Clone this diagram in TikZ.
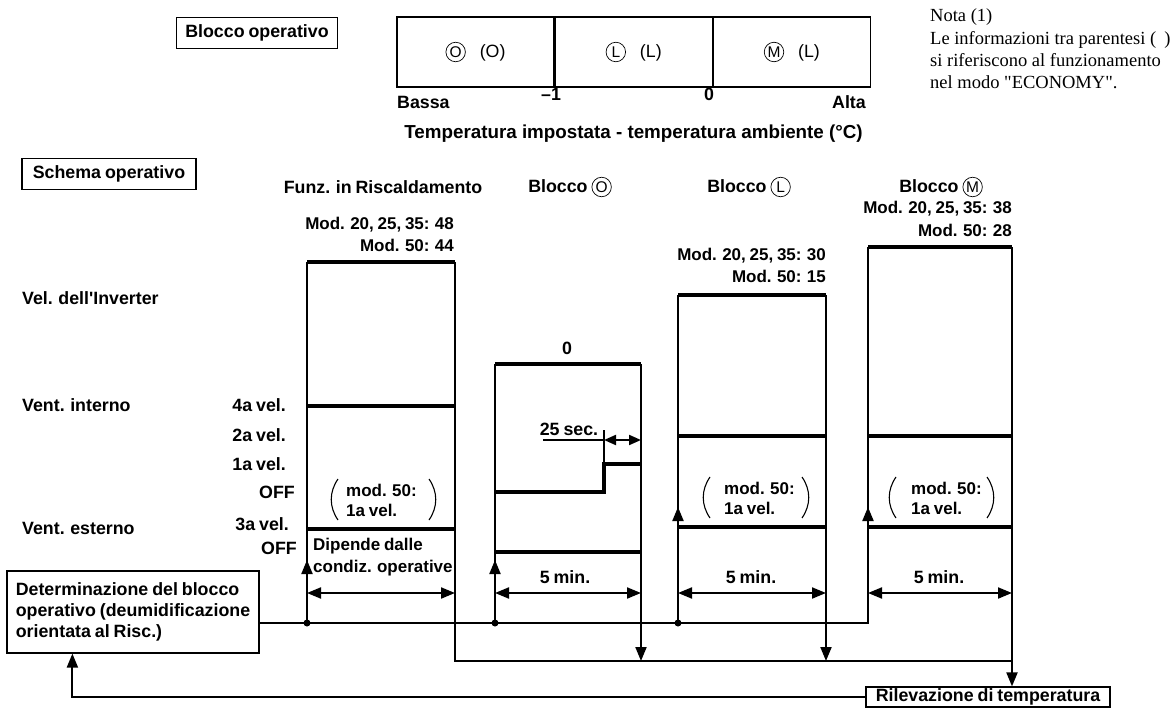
\documentclass[tikz,border=0pt]{standalone}
\usepackage{fontspec}
\setmainfont{Liberation Sans}
\newfontfamily\notefont{Liberation Serif}
\usetikzlibrary{arrows.meta,positioning}

% narrow word spaces, as in the chart
\newcommand{\tightsp}{\spaceskip=0.22em plus 0.05em minus 0.03em\relax}
% letter in a circle (the fonts at hand have no circled letters)
\newcommand{\circled}[1]{\tikz[baseline=(cc.base)]\node[draw, circle, line width=0.7pt, inner sep=0pt, minimum size=19.5pt, font=\fontsize{15.5}{15.5}\selectfont\mdseries] (cc) {#1};}

\begin{document}
\begin{tikzpicture}[
  x=1pt, y=-1pt,
  font=\fontsize{17.8}{21}\selectfont\bfseries\tightsp,
  >={Triangle[length=14pt,width=11pt]},
  frame/.style={
    rectangle,
    draw,
    line width=1.2pt,
    inner sep=0pt
  },
  cell/.style={
    frame,
    minimum width=157pt,
    minimum height=70pt,
    font=\fontsize{17.8}{21}\selectfont\mdseries
  },
  wire/.style={line width=2pt},
  level/.style={line width=4.2pt},
  arr/.style={->, line width=2pt},
  dim/.style={<->, line width=2pt},
  paren/.style={line width=1.1pt},
  lbl/.style={inner sep=0pt},
  small/.style={lbl, anchor=west, align=left, font=\fontsize{17}{20}\selectfont\bfseries\tightsp},
  modlbl/.style={lbl, anchor=east, font=\fontsize{17}{20}\selectfont\bfseries\tightsp}
]

\useasboundingbox (0,0) rectangle (1171,709);

% operating block chart
\node[frame, minimum width=161pt, minimum height=31pt] (bo) at (257,33) {Blocco operativo};
\node[cell] (cO) at (475.5,52) {\circled{O}\hspace{14pt}(O)};
\node[cell, right=0pt of cO] (cL) {\circled{L}\hspace{14pt}(L)};
\node[cell, right=0pt of cL] (cM) {\circled{M}\hspace{14pt}(L)};
\node[lbl, anchor=west] (bassa) at (397,102) {Bassa};
\node[lbl] (m1) at (551,94) {–1};
\node[lbl] (zero) at (709,94) {0};
\node[lbl, anchor=east] (alta) at (866,102) {Alta};
\node[lbl, anchor=east, font=\fontsize{18.8}{22}\selectfont\bfseries] (axis) at (863,134) {Temperatura impostata - temperatura ambiente (°C)};

\node[lbl, anchor=north west, align=left, font=\notefont\fontsize{18.5}{22}\selectfont]
  (nota) at (930,8) {Nota (1)\\[1pt]Le informazioni tra parentesi (\hspace{8pt})\\si riferiscono al funzionamento\\nel modo "ECONOMY".};

% operating pattern
\node[frame, minimum width=174pt, minimum height=31pt] (so) at (109,174) {Schema operativo};
\node[lbl] (h1) at (383,187) {Funz. in Riscaldamento};
\node[lbl] (h2) at (570,187) {Blocco \circled{O}};
\node[lbl] (h3) at (749,187) {Blocco \circled{L}};
\node[lbl] (h4) at (941,187) {Blocco \circled{M}};

\node[lbl, anchor=west] (inv) at (22,298) {Vel. dell\textquotesingle Inverter};
\node[lbl, anchor=west] (vi) at (22,405) {Vent. interno};
\node[lbl, anchor=west] (ve) at (22,528) {Vent. esterno};
\node[lbl, anchor=east] (s4) at (286,405) {4a vel.};
\node[lbl, anchor=east] (s2) at (286,435) {2a vel.};
\node[lbl, anchor=east] (s1) at (286,464) {1a vel.};
\node[lbl, anchor=east] (off1) at (295,492) {OFF};
\node[lbl, anchor=east] (s3) at (289,524) {3a vel.};
\node[lbl, anchor=east] (off2) at (297,548) {OFF};

\node[modlbl] at (454,225) {Mod. 20, 25, 35: 48};
\node[modlbl] at (454,245) {Mod. 50: 44};
\node[lbl] at (567,348) {0};
\node[modlbl] at (826,256) {Mod. 20, 25, 35: 30};
\node[modlbl] at (826,276) {Mod. 50: 15};
\node[modlbl] at (1012,209) {Mod. 20, 25, 35: 38};
\node[modlbl] at (1012,230) {Mod. 50: 28};

\node[frame, minimum width=252pt, minimum height=82pt, align=left]
  (det) at (133,612) {Determinazione del blocco\\operativo (deumidificazione\\orientata al Risc.)};
\node[frame, minimum width=244pt, minimum height=20pt] (ril) at (988,697) {Rilevazione di temperatura};

\coordinate (d1) at (307,623);
\coordinate (d2) at (495,623);
\coordinate (d3) at (678,623);
\coordinate (d4) at (868,623);
\coordinate (r1) at (455,661);
\coordinate (r4) at (1012,661);
\coordinate (t2) at (641,364);
\coordinate (t3) at (826,295);

% block edges
\draw[wire] (d1) -- (307,262);
\draw[wire] (455,262) -- (r1) -- (r4);
\draw[wire] (d2) -- (495,364);
\draw[wire] (d3) -- (678,295);
\draw[wire] (det.east |- d1) -- (d4) -- (868,247);
\draw[arr] (t2) -- (t2 |- r1);
\draw[arr] (t3) -- (t3 |- r1);
\draw[arr] (1012,247) -- (r4 |- ril.north);
\draw[arr] (ril.west) -| ([xshift=66pt]det.south west);
\foreach \p in {d1,d2,d3} \fill (\p) circle (3.5pt);

\draw[arr] (d1) -- ++(0,-63);
\draw[arr] (d2) -- ++(0,-63);
\draw[arr] (d3) -- ++(0,-116);
\draw[arr] (d4) -- ++(0,-116);

% speed levels
\draw[level] (307,262) -- (455,262);
\draw[level] (307,406) -- (455,406);
\draw[level] (307,529) -- (455,529);
\draw[level] (495,364) -- (641,364);
\draw[level] (495,492) -- (604,492) -- (604,464) -- (641,464);
\draw[level] (495,552) -- (641,552);
\draw[level] (678,295) -- (826,295);
\draw[level] (678,436) -- (826,436);
\draw[level] (678,527) -- (826,527);
\draw[level] (868,247) -- (1012,247);
\draw[level] (868,436) -- (1012,436);
\draw[level] (868,527) -- (1012,527);

% 25 sec.
\draw[line width=1.2pt] (604,464) -- (604,430);
\draw[line width=1.5pt] (543,440) -- (604,440);
\draw[dim, >={Triangle[length=12pt,width=10pt]}] (604,440) -- (641,440);
\node[lbl] at (569,429) {25 sec.};

% times
\draw[dim] (307,593) -- (455,593);
\draw[dim] (495,593) -- (641,593);
\draw[dim] (678,593) -- (826,593);
\draw[dim] (868,593) -- (1012,593);
\node[small, font=\fontsize{17}{22}\selectfont\bfseries\tightsp] at (313,557) {Dipende dalle\\condiz. operative};
\node[lbl] at (565,577) {5 min.};
\node[lbl] at (751,577) {5 min.};
\node[lbl] at (939,577) {5 min.};

% mod. 50 notes
\node[small] at (346,500) {mod. 50:\\1a vel.};
\node[small] at (724,498) {mod. 50:\\1a vel.};
\node[small] at (911,498) {mod. 50:\\1a vel.};
\draw[paren] (338,479) .. controls (329,492) and (329,507) .. (338,520);
\draw[paren] (429,479) .. controls (438,492) and (438,507) .. (429,520);
\draw[paren] (710,477) .. controls (701,490) and (701,505) .. (710,518);
\draw[paren] (802,477) .. controls (811,490) and (811,505) .. (802,518);
\draw[paren] (896,477) .. controls (887,490) and (887,505) .. (896,518);
\draw[paren] (987,477) .. controls (996,490) and (996,505) .. (987,518);

\end{tikzpicture}
\end{document}
